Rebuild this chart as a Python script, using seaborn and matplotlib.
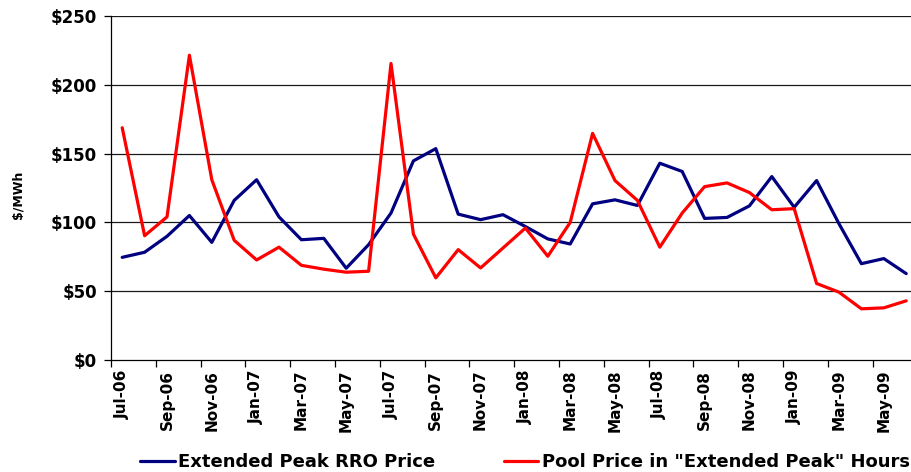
import numpy as np
import pandas as pd
import matplotlib
matplotlib.use("Agg")
import matplotlib.pyplot as plt
import seaborn as sns

months = ["Jul-06", "Aug-06", "Sep-06", "Oct-06", "Nov-06", "Dec-06",
          "Jan-07", "Feb-07", "Mar-07", "Apr-07", "May-07", "Jun-07",
          "Jul-07", "Aug-07", "Sep-07", "Oct-07", "Nov-07", "Dec-07",
          "Jan-08", "Feb-08", "Mar-08", "Apr-08", "May-08", "Jun-08",
          "Jul-08", "Aug-08", "Sep-08", "Oct-08", "Nov-08", "Dec-08",
          "Jan-09", "Feb-09", "Mar-09", "Apr-09", "May-09", "Jun-09"]

rro_price = [74.6, 78.3, 89.9, 105.0, 85.5, 116.0,
             131.0, 104.0, 87.4, 88.4, 66.7, 83.8,
             106.8, 144.7, 153.6, 106.0, 102.0, 105.6,
             97.0, 88.0, 84.3, 113.5, 116.4, 112.3,
             143.0, 137.0, 102.9, 103.6, 112.0, 133.3,
             111.0, 130.4, 99.0, 70.0, 73.7, 62.8]

pool_price = [168.8, 90.3, 104.0, 221.5, 131.0, 87.0,
              72.7, 82.0, 68.8, 66.0, 63.8, 64.5,
              215.5, 91.5, 59.7, 80.2, 66.9, 81.4,
              95.9, 75.4, 100.0, 164.7, 130.4, 116.0,
              82.0, 106.8, 126.0, 128.7, 121.7, 109.2,
              110.0, 55.6, 49.3, 37.2, 37.9, 43.0]

series_names = ["Extended Peak RRO Price", "Pool Price in \"Extended Peak\" Hours"]
series_colors = ["#000080", "#FF0000"]
y_ticks = [0, 50, 100, 150, 200, 250]

n = len(months)
df = pd.DataFrame({
    "idx": list(range(n)) * 2,
    "price": rro_price + pool_price,
    "series": [series_names[0]] * n + [series_names[1]] * n,
})

sns.set_theme(style="white")
plt.rcParams["font.family"] = ["DejaVu Sans"]
plt.rcParams["text.color"] = "black"
plt.rcParams["xtick.color"] = "black"
plt.rcParams["ytick.color"] = "black"
plt.rcParams["axes.labelcolor"] = "black"

fig = plt.figure(figsize=(9.12, 4.72), dpi=100)
ax = fig.add_axes([111 / 912, 1 - 360 / 472, 806.4 / 912, 344 / 472])

sns.lineplot(data=df, x="idx", y="price", hue="series",
             palette=dict(zip(series_names, series_colors)),
             linewidth=2.3, ax=ax, legend=False)

ax.set_xlim(-0.5, n - 0.5)
ax.set_ylim(0, 250)

# horizontal gridlines
for v in y_ticks[1:]:
    ax.axhline(v, color="#1a1a1a", lw=0.9, zorder=0)

ax.set_yticks(y_ticks)
ax.set_yticklabels([f"${v}" for v in y_ticks], fontsize=12, fontweight="bold")
ax.tick_params(axis="y", which="major", direction="out", length=5, width=0.9,
               color="black", labelcolor="black", pad=5, left=True)

# month labels at every other category, tick marks on category boundaries
ax.set_xticks(range(0, n, 2))
ax.set_xticklabels(months[::2], rotation=90, fontsize=11, fontweight="bold")
ax.set_xticks(np.arange(-0.5, n, 2), minor=True)
ax.tick_params(axis="x", which="major", length=0, pad=7, labelcolor="black")
ax.tick_params(axis="x", which="minor", direction="out", length=5, width=0.9,
               color="black", bottom=True)

ax.set_xlabel("")
ax.set_ylabel("$/MWh", fontsize=9, fontweight="bold", color="black")
ax.yaxis.set_label_coords((24 - 111) / 806.4, 0.48)

for s in ["top", "right"]:
    ax.spines[s].set_visible(False)
for s in ["left", "bottom"]:
    ax.spines[s].set_color("black")
    ax.spines[s].set_linewidth(0.9)

handles = [plt.Line2D([], [], color=c, lw=2.3) for c in series_colors]
fig.legend(handles, series_names, loc="center", bbox_to_anchor=(525 / 912, 1 - 462 / 472),
           ncol=2, frameon=False, prop={"size": 13, "weight": "bold"},
           labelcolor="black", handlelength=1.9, handletextpad=0.2, columnspacing=3.8)

fig.savefig("out.png", dpi=100)
